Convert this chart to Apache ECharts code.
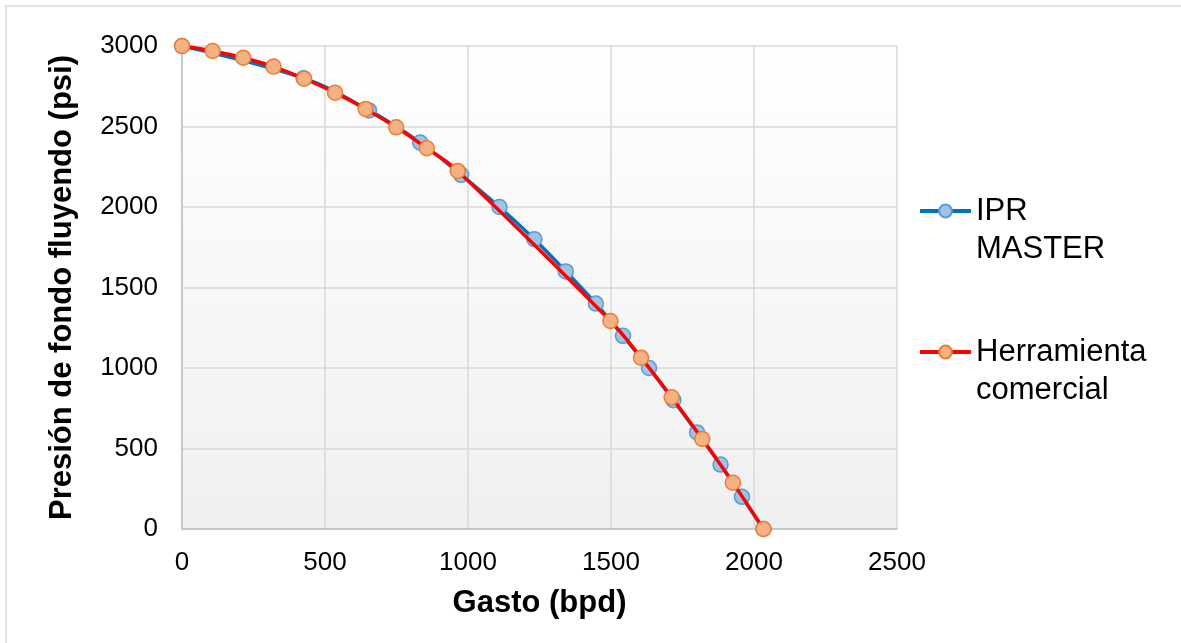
<!DOCTYPE html>
<html>
<head>
<meta charset="utf-8">
<script src="https://cdn.jsdelivr.net/npm/echarts@6/dist/echarts.min.js"></script>
<style>
html,body{margin:0;padding:0;background:#fff;}
#chart{width:1181px;height:643px;}
</style>
</head>
<body>
<div id="chart"></div>
<script>
// IPR MASTER series
const iprQ = [0, 425, 654, 833, 976, 1110, 1232, 1342, 1447, 1542, 1633, 1718, 1801, 1883, 1958, 2033];
const iprP = [3000, 2800, 2600, 2400, 2200, 2000, 1800, 1600, 1400, 1200, 1000, 800, 600, 400, 200, 0];
// Herramienta comercial series
const hcQ = [0, 107, 214, 320, 427, 535, 642, 749, 856, 964, 1498, 1605, 1712, 1819, 1926, 2033];
const hcP = [3000, 2969, 2927, 2872, 2797, 2710, 2609, 2495, 2365, 2224, 1292, 1064, 818, 559, 288, 0];
// axis ticks
const xTicks = [0, 500, 1000, 1500, 2000, 2500];
const yTicks = [0, 500, 1000, 1500, 2000, 2500, 3000];

const seriesNames = ['IPR\nMASTER', 'Herramienta\ncomercial'];
const FONT = 'Liberation Sans, Arial, sans-serif';

const chart = echarts.init(document.getElementById('chart'), null, {renderer: 'canvas'});
const option = {
  backgroundColor: '#ffffff',
  animation: false,
  graphic: [{
    type: 'rect', z: -10,
    shape: {x: 6, y: 6, width: 1300, height: 800},
    style: {fill: 'none', stroke: '#D9D9D9', lineWidth: 1.5}
  }],
  grid: {
    left: 182, right: 284, top: 46, bottom: 114,
    show: true, borderWidth: 0,
    backgroundColor: new echarts.graphic.LinearGradient(0, 0, 0, 1, [
      {offset: 0, color: '#FFFFFF'}, {offset: 1, color: '#F0F0F0'}
    ])
  },
  legend: {
    orient: 'vertical', left: 918, top: 154, padding: 0,
    itemWidth: 51, itemHeight: 16, itemGap: 27,
    data: seriesNames,
    formatter: name => '\n' + name,
    lineStyle: {width: 4},
    textStyle: {fontSize: 31, fontFamily: FONT, color: '#000', lineHeight: 38}
  },
  xAxis: {
    type: 'value', min: xTicks[0], max: xTicks[xTicks.length - 1], interval: 500,
    name: 'Gasto (bpd)', nameLocation: 'middle', nameGap: 59,
    nameTextStyle: {fontSize: 31, fontWeight: 'bold', fontFamily: FONT, color: '#000'},
    axisLine: {show: true, lineStyle: {color: '#BFBFBF', width: 1.5}},
    axisTick: {show: false},
    axisLabel: {fontSize: 26, fontFamily: FONT, color: '#000', margin: 21, formatter: v => String(v)},
    splitLine: {show: true, lineStyle: {color: '#D9D9D9', width: 1.5}}
  },
  yAxis: {
    type: 'value', min: yTicks[0], max: yTicks[yTicks.length - 1], interval: 500,
    name: 'Presión de fondo fluyendo (psi)', nameLocation: 'middle', nameGap: 104, nameRotate: 90,
    nameTextStyle: {fontSize: 31, fontWeight: 'bold', fontFamily: FONT, color: '#000'},
    axisLine: {show: true, lineStyle: {color: '#BFBFBF', width: 1.5}},
    axisTick: {show: false},
    axisLabel: {fontSize: 26, fontFamily: FONT, color: '#000', margin: 24, formatter: v => String(v)},
    splitLine: {show: true, lineStyle: {color: '#D9D9D9', width: 1.5}}
  },
  series: [
    {
      name: seriesNames[0], type: 'line', smooth: 0.4,
      data: iprQ.map((q, i) => [q, iprP[i]]),
      symbol: 'circle', symbolSize: 15,
      lineStyle: {color: '#0070C0', width: 3.5},
      itemStyle: {color: '#9DC3E6', borderColor: '#5B9BD5', borderWidth: 1.5},
      z: 2
    },
    {
      name: seriesNames[1], type: 'line', smooth: 0.4,
      data: hcQ.map((q, i) => [q, hcP[i]]),
      symbol: 'circle', symbolSize: 15,
      lineStyle: {color: '#FF0000', width: 3.5},
      itemStyle: {color: '#F4B183', borderColor: '#ED7D31', borderWidth: 1.5},
      z: 3
    }
  ]
};
chart.setOption(option);
</script>
</body>
</html>
